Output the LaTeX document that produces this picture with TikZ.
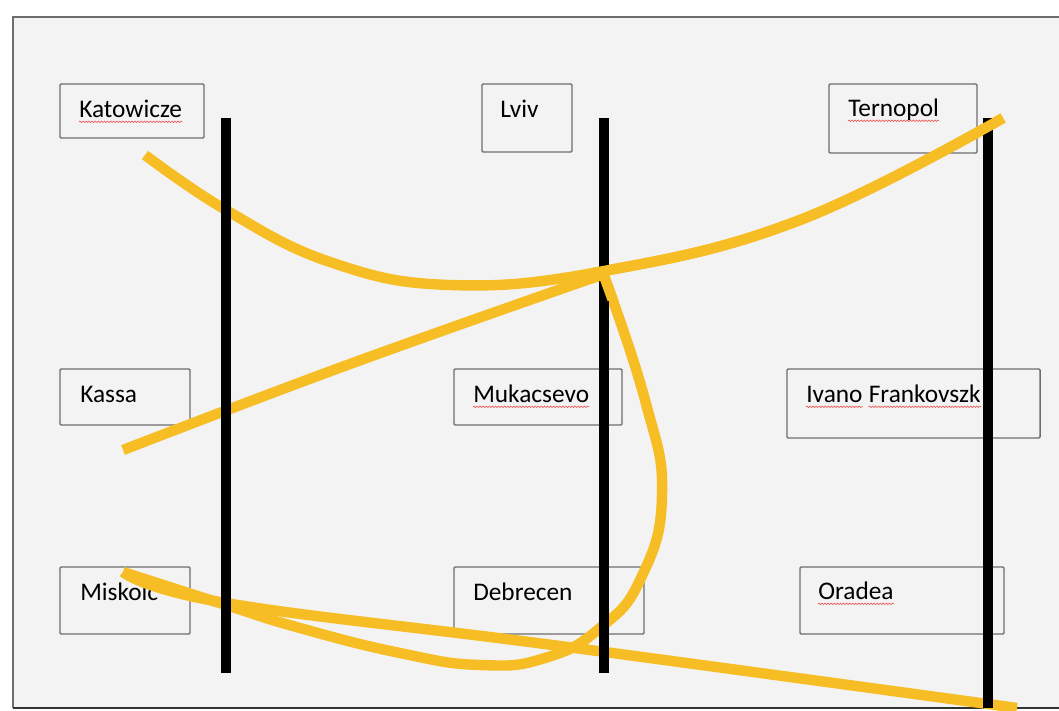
\documentclass[tikz,border=0pt]{standalone}
\usepackage{fontspec}
\setmainfont{Carlito}
\usepackage{tikz}
\usetikzlibrary{positioning,decorations.pathmorphing}
\definecolor{routeYellow}{HTML}{F6BD25}
\definecolor{paneGray}{HTML}{F3F3F3}
\definecolor{boxGray}{HTML}{6E6E6E}
\definecolor{spellRed}{HTML}{EE5A5A}

% yellow routes, in pixel coordinates
\newcommand\routeTop{plot[smooth,tension=0.7] coordinates {(145,155) (226,210) (330,262) (450,285) (604,271) (800,220) (1003,118)}}
\newcommand\routeKassa{plot[smooth,tension=0.7] coordinates {(123,450) (350,364) (604,274)}}
\newcommand\routeLoop{plot[smooth,tension=0.8] coordinates {(604,276) (645,400) (662,495) (641,578) (600,628) (545,658) (480,665) (400,653) (300,628) (226,605) (123,572)}}
\newcommand\routeLow{plot[smooth,tension=0.7] coordinates {(123,572) (226,603) (560,646) (1017,708)}}

\tikzset{
  cityBox/.style={draw=boxGray,line width=1.1pt,rounded corners=0.8pt},
  cityName/.style={anchor=base west,inner sep=0pt,font=\fontsize{19}{22}\selectfont},
  spell/.style={spellRed,line width=0.5pt,decorate,decoration={snake,amplitude=0.55pt,segment length=2.3pt}},
  route/.style={routeYellow,line width=7.8pt},
  border/.style={black,line width=7pt}
}

\begin{document}
\begin{tikzpicture}[x=0.75pt,y=-0.75pt]
\useasboundingbox (0,0) rectangle (1059,710);
\clip (0,0) rectangle (1059,710);
\fill[white] (0,0) rectangle (1059,710);
\fill[paneGray] (13,17) rectangle (1070,708);
\draw[boxGray,line width=1.1pt] (1070,17) -- (13,17) -- (13,708);
\draw[black!80,line width=2pt] (13,708) -- (1070,708);

% boxes
\foreach \x/\y/\X/\Y in {60/84/204/138,482/84/572/152,829/84/977/153,
    60/369/190/425,454/369/622/425,787/369/1040/438,
    60/567/190/634,454/567/644/634,800/567/1004/634}
  \draw[cityBox] (\x,\y) rectangle (\X,\Y);

\node[cityName] (kat) at (79,117) {Katowicze};
\node[cityName] (lvi) at (500,117) {Lviv};
\node[cityName] (ter) at (848,116) {Ternopol};
\node[cityName] (kas) at (80,402) {Kassa};
\node[cityName] (muk) at (473,402) {Mukacsevo};
\node[cityName] (iva) at (806,402) {Ivano};
\node[cityName,base right=4.3pt of iva] (fra) {Frankovszk};
\node[cityName] (mis) at (80,600) {Miskolc};
\node[cityName] (deb) at (473,600) {Debrecen};
\node[cityName] (ora) at (818,599) {Oradea};

\foreach \n in {kat,ter,muk,iva,fra,ora}
  \draw[spell] ([yshift=-3.6pt]\n.base west) -- ([yshift=-3.6pt]\n.base east);

% routes
\draw[route] \routeTop;
\draw[route] \routeKassa;
\draw[route] \routeLoop;
\draw[route] \routeLow;

% borders
\foreach \x/\yb in {226/673,604/673,988/708}
  \draw[border] (\x,118) -- (\x,\yb);

% routes over the borders near Lviv and Ternopol
\begin{scope}
\clip (592,100) rectangle (1059,300);
\draw[route] \routeTop;
\draw[route] \routeKassa;
\draw[route] \routeLoop;
\end{scope}
\end{tikzpicture}
\end{document}
